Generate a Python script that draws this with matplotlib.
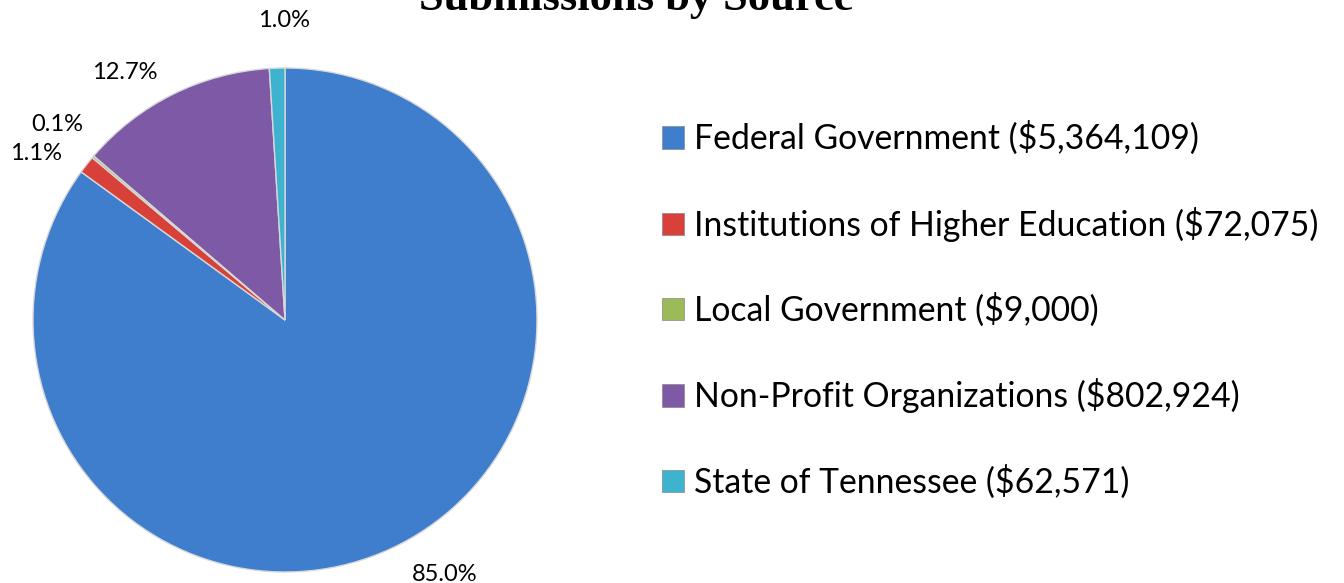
import matplotlib.pyplot as plt
import numpy as np

# --- data ---
sources = ['Federal Government', 'Institutions of Higher Education',
           'Local Government', 'Non-Profit Organizations', 'State of Tennessee']
amounts = [5364109, 72075, 9000, 802924, 62571]
pct_labels = ['85.0%', '1.1%', '0.1%', '12.7%', '1.0%']

colors = ['#3F7ECC', '#D8403A', '#9BBB59', '#7D59A6', '#3EB3CF']

plt.rcParams['font.family'] = ['Lato', 'DejaVu Sans']

fig = plt.figure(figsize=(13.44, 5.83), dpi=100)
# pie centre ~ (285, 320) px, radius ~ 252 px
ax = fig.add_axes([33/1344, 1 - 572/583, 504/1344, 504/583])

wedges, _ = ax.pie(amounts, colors=colors, startangle=90, counterclock=False,
                   wedgeprops=dict(edgecolor='#d8d8d8', linewidth=1.0))
ax.set_aspect('equal')
ax.set_xlim(-1, 1)
ax.set_ylim(-1, 1)

# label placement tweaks (angle offset in degrees, radius)
offsets = [(5.1, 1.19), (4.3, 1.19), (-0.3, 1.19), (6.4, 1.17), (-1.6, 1.19)]
for w, lab, (da, r) in zip(wedges, pct_labels, offsets):
    ang = np.deg2rad((w.theta1 + w.theta2) / 2 + da)
    ax.text(r * np.cos(ang), r * np.sin(ang), lab, ha='center', va='center',
            fontsize=17, clip_on=False)

legend_labels = [f'{s} (${a:,})' for s, a in zip(sources, amounts)]
handles = [plt.Rectangle((0, 0), 1, 1, facecolor=c, edgecolor='#888888', linewidth=0.5)
           for c in colors]
fig.legend(handles, legend_labels, loc='center left', bbox_to_anchor=(662/1344, 1 - 310/583),
           frameon=False, fontsize=24.3, labelspacing=1.52, handlelength=0.65,
           handleheight=0.65, handletextpad=0.3, borderpad=0, borderaxespad=0)

fig.text(636/1344, 1 - 10/583, 'Submissions by Source', ha='center', va='baseline',
         fontsize=32, fontweight='bold', family='Liberation Serif')

fig.savefig('out.png', dpi=100)
